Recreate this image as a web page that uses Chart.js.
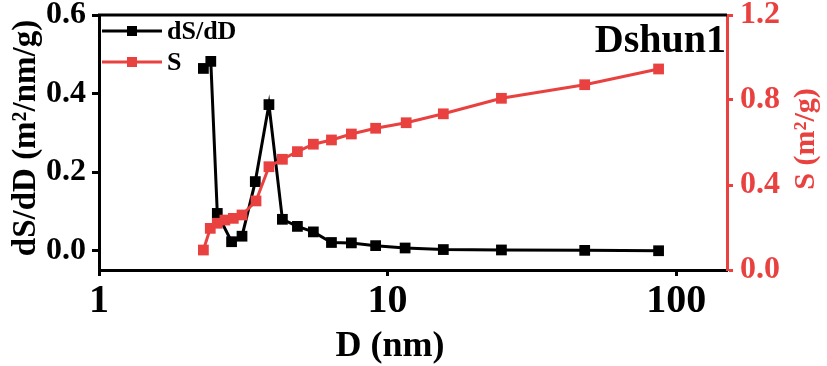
<!DOCTYPE html>
<html><head><meta charset="utf-8">
<script src="https://cdn.jsdelivr.net/npm/chart.js@4/dist/chart.umd.min.js"></script>
<style>html,body{margin:0;padding:0;background:#fff}#wrap{width:827px;height:366px}</style>
</head><body><div id="wrap"><canvas id="c" width="827" height="366"></canvas></div>
<script>
// Pore diameter D (nm) for dS/dD series
const dsddD = [2.30, 2.44, 2.57, 2.88, 3.13, 3.48, 3.88, 4.32, 4.87, 5.53, 6.39, 7.49, 9.09, 11.5, 15.6, 24.8, 48.2, 86.9];
// dS/dD values (m²/nm/g)
const dsddValues = [0.464, 0.482, 0.095, 0.023, 0.037, 0.176, 0.372, 0.080, 0.062, 0.048, 0.021, 0.020, 0.013, 0.007, 0.003, 0.002, 0.001, 0.000];
// Pore diameter D (nm) for cumulative S series
const sD = [2.30, 2.43, 2.57, 2.73, 2.92, 3.13, 3.50, 3.88, 4.32, 4.87, 5.53, 6.39, 7.49, 9.09, 11.6, 15.6, 24.8, 48.2, 86.9];
// Cumulative surface area S (m²/g)
const sValues = [0.094, 0.196, 0.220, 0.235, 0.243, 0.259, 0.325, 0.486, 0.521, 0.557, 0.592, 0.612, 0.640, 0.667, 0.693, 0.735, 0.808, 0.872, 0.946];

const xTickValues = [1, 10, 100];
const leftTickValues = [0, 0.2, 0.4, 0.6];
const rightTickValues = [0, 0.4, 0.8, 1.2];

const seriesNames = ['dS/dD', 'S'];
const sampleLabel = 'Dshun1';
const xTitle = 'D (nm)';
const yLeftTitle = 'dS/dD (m\u00B2/nm/g)';
const yRightTitle = 'S (m\u00B2/g)';

const RED = '#E8413F';
const BLACK = '#000000';
const FONT = '"Liberation Serif", "Times New Roman", serif';

const toXY = (xs, ys) => xs.map((x, i) => ({x: x, y: ys[i]}));

const decor = {
  id: 'decor',
  afterDraw(chart) {
    const ctx = chart.ctx;
    const a = chart.chartArea;
    ctx.save();
    // top frame line
    ctx.strokeStyle = BLACK;
    ctx.lineWidth = 3;
    ctx.beginPath();
    ctx.moveTo(a.left - 1, a.top);
    ctx.lineTo(a.right, a.top);
    ctx.stroke();

    // legend
    const rows = [
      {name: seriesNames[0], color: BLACK, y: a.top + 16},
      {name: seriesNames[1], color: RED, y: a.top + 47}
    ];
    rows.forEach(r => {
      ctx.strokeStyle = r.color;
      ctx.lineWidth = 3;
      ctx.beginPath();
      ctx.moveTo(a.left + 3, r.y);
      ctx.lineTo(a.left + 63, r.y);
      ctx.stroke();
      ctx.fillStyle = r.color;
      ctx.fillRect(a.left + 33 - 5, r.y - 5, 10, 10);
      ctx.fillStyle = BLACK;
      ctx.font = 'bold 26px ' + FONT;
      ctx.textAlign = 'left';
      ctx.textBaseline = 'middle';
      ctx.fillText(r.name, a.left + 68, r.y + 1);
    });

    // sample label
    ctx.fillStyle = BLACK;
    ctx.font = 'bold 40px ' + FONT;
    ctx.textAlign = 'right';
    ctx.textBaseline = 'alphabetic';
    ctx.fillText(sampleLabel, a.right - 1, a.top + 37);

    // x title
    ctx.font = 'bold 36px ' + FONT;
    ctx.textAlign = 'center';
    ctx.textBaseline = 'alphabetic';
    ctx.fillText(xTitle, 390, 356);

    // left title
    ctx.save();
    ctx.translate(26, 138);
    ctx.rotate(-Math.PI / 2);
    ctx.font = 'bold 33px ' + FONT;
    ctx.textAlign = 'center';
    ctx.textBaseline = 'middle';
    ctx.fillText(yLeftTitle, 0, 0);
    ctx.restore();

    // right title
    ctx.save();
    ctx.translate(806, 139);
    ctx.rotate(-Math.PI / 2);
    ctx.fillStyle = RED;
    ctx.font = 'bold 30px ' + FONT;
    ctx.textAlign = 'center';
    ctx.textBaseline = 'middle';
    ctx.fillText(yRightTitle, 0, 0);
    ctx.restore();

    ctx.restore();
  }
};

new Chart(document.getElementById('c'), {
  type: 'line',
  data: {
    datasets: [
      {
        label: seriesNames[0],
        data: toXY(dsddD, dsddValues),
        yAxisID: 'y',
        borderColor: BLACK,
        backgroundColor: BLACK,
        borderWidth: 3,
        pointStyle: 'rect',
        pointRadius: 7.6,
        pointBorderWidth: 0,
        pointBackgroundColor: BLACK,
        tension: 0,
        order: 2
      },
      {
        label: seriesNames[1],
        data: toXY(sD, sValues),
        yAxisID: 'y1',
        borderColor: RED,
        backgroundColor: RED,
        borderWidth: 3,
        pointStyle: 'rect',
        pointRadius: 7.6,
        pointBorderWidth: 0,
        pointBackgroundColor: RED,
        tension: 0,
        order: 1
      }
    ]
  },
  options: {
    responsive: false,
    animation: false,
    devicePixelRatio: 1,
    layout: {padding: {top: 15, left: 0, right: 0, bottom: 0}},
    plugins: {legend: {display: false}, tooltip: {enabled: false}},
    scales: {
      x: {
        type: 'logarithmic',
        position: 'bottom',
        min: 1,
        max: 150,
        afterBuildTicks: s => { s.ticks = xTickValues.map(v => ({value: v})); },
        afterFit: s => { s.height = 96; },
        ticks: {
          callback: v => String(v),
          color: BLACK,
          font: {family: FONT, size: 40, weight: 'bold'},
          padding: 2,
          maxRotation: 0,
          autoSkip: false
        },
        grid: {drawOnChartArea: false, drawTicks: true, tickLength: 6, tickWidth: 3, tickColor: BLACK},
        border: {color: BLACK, width: 3}
      },
      y: {
        type: 'linear',
        position: 'left',
        min: -0.049,
        max: 0.6,
        afterBuildTicks: s => { s.ticks = leftTickValues.map(v => ({value: v})); },
        afterFit: s => { s.width = 99; s.paddingTop = 0; s.paddingBottom = 0; },
        ticks: {
          callback: v => Number(v).toFixed(1),
          color: BLACK,
          font: {family: FONT, size: 32, weight: 'bold', lineHeight: 0.5},
          padding: 6
        },
        grid: {drawOnChartArea: false, drawTicks: true, tickLength: 7, tickWidth: 3, tickColor: BLACK},
        border: {color: BLACK, width: 3}
      },
      y1: {
        type: 'linear',
        position: 'right',
        min: 0,
        max: 1.2,
        afterBuildTicks: s => { s.ticks = rightTickValues.map(v => ({value: v})); },
        afterFit: s => { s.width = 100; s.paddingTop = 0; s.paddingBottom = 0; },
        ticks: {
          callback: v => Number(v).toFixed(1),
          color: RED,
          font: {family: FONT, size: 32, weight: 'bold', lineHeight: 0.5},
          padding: 7
        },
        grid: {drawOnChartArea: false, drawTicks: true, tickLength: 6, tickWidth: 3, tickColor: RED},
        border: {color: RED, width: 3}
      }
    }
  },
  plugins: [decor]
});
</script>
</body></html>
